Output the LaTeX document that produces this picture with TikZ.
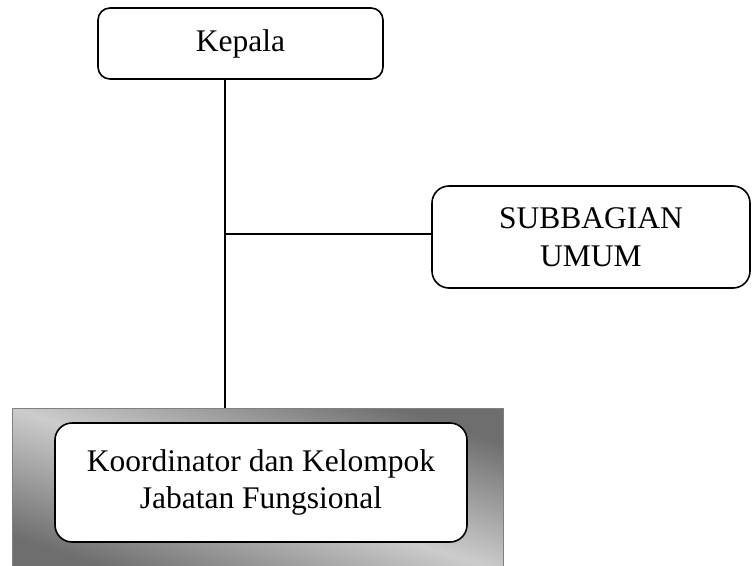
\documentclass[tikz,border=0pt]{standalone}
\usepackage{fontspec}
\setmainfont{Liberation Serif}
\usetikzlibrary{positioning}
\colorlet{framedark}{black!57}
\colorlet{framelight}{black!20}

\begin{document}
\begin{tikzpicture}[x=1pt,y=-1pt,
  every node/.style={font=\fontsize{31.5}{37.5}\selectfont},
  unit/.style={draw,line width=1.6pt,fill=white,align=center,inner sep=0pt},
  frame/.style={draw=black!50,line width=0.8pt,top color=framedark,bottom color=framedark,middle color=framelight,shading angle=-18.5,inner sep=0pt}]
\useasboundingbox (0,0) rectangle (752,565);
\node[unit,rounded corners=12pt,minimum width=285pt,minimum height=71pt] (kepala) at (240.5,43.5) {Kepala};
\node[unit,rounded corners=17pt,minimum width=318pt,minimum height=102pt] (umum) at (591,237) {SUBBAGIAN\\UMUM};
\node[frame,minimum width=491pt,minimum height=164pt] (jf) at (257.5,490) {};
\node[unit,rounded corners=17pt,minimum width=412pt,minimum height=119pt] (koord) at (261,482.5) {Koordinator dan Kelompok\\Jabatan Fungsional};
\coordinate (stem) at (225,234);
\draw[line width=1.6pt] (kepala.south -| stem) -- (jf.north -| stem);
\draw[line width=1.6pt] (stem) -- (stem -| umum.west);
\end{tikzpicture}
\end{document}
